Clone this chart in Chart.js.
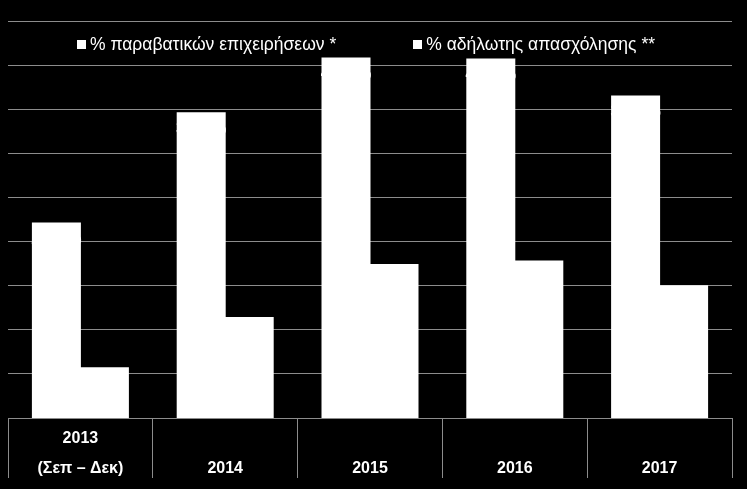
<!DOCTYPE html>
<html>
<head>
<meta charset="utf-8">
<script src="https://cdn.jsdelivr.net/npm/chart.js@4/dist/chart.umd.min.js"></script>
<style>
  html, body { margin: 0; padding: 0; background: #000; }
  #wrap { position: relative; width: 747px; height: 489px; background: #000; overflow: hidden; }
  canvas { display: block; }
  #legend { position: absolute; left: 4px; width: 724px; top: 33px; display: flex; justify-content: center; gap: 77px;
            font-family: "Liberation Sans", Arial, sans-serif; font-size: 17.5px; color: #fff; line-height: 22px; }
  #legend .item { display: flex; align-items: center; white-space: nowrap; }
  #legend .box { width: 9px; height: 9px; background: #fff; margin-right: 4px; }
</style>
</head>
<body>
<div id="wrap">
  <canvas id="c" width="747" height="489"></canvas>
  <div id="legend"></div>
</div>
<script>
const categories = [["2013", "(Σεπ – Δεκ)"], "2014", "2015", "2016", "2017"];
const seriesNames = ["% παραβατικών επιχειρήσεων *", "% αδήλωτης απασχόλησης **"];
const violatingBusinesses = [22.1, 34.6, 40.8, 40.7, 36.5];
const undeclaredWork = [5.7, 11.4, 17.4, 17.8, 15.0];
const yTicks = { min: 0, max: 45, step: 5 };

// HTML legend built from the series names
const legendEl = document.getElementById('legend');
seriesNames.forEach(n => {
  const it = document.createElement('div'); it.className = 'item';
  const b = document.createElement('span'); b.className = 'box';
  const t = document.createElement('span'); t.textContent = n;
  it.appendChild(b); it.appendChild(t); legendEl.appendChild(it);
});

// white value labels (white text on white bars; only edges peek out)
const valueLabels = {
  id: 'valueLabels',
  afterDatasetsDraw(chart) {
    const ctx = chart.ctx;
    const meta = chart.getDatasetMeta(0);
    ctx.save();
    ctx.fillStyle = '#fff';
    ctx.font = 'bold 17.8px "Liberation Sans", Arial, sans-serif';
    ctx.textAlign = 'center';
    ctx.textBaseline = 'middle';
    meta.data.forEach((bar, i) => {
      const v = violatingBusinesses[i];
      ctx.fillText(v.toFixed(1).replace('.', ',') + '%', bar.x, bar.y + 16);
    });
    ctx.restore();
  }
};

new Chart(document.getElementById('c'), {
  type: 'bar',
  data: {
    labels: categories,
    datasets: [
      { label: seriesNames[0], data: violatingBusinesses, backgroundColor: '#ffffff', borderWidth: 0, inflateAmount: 0.5 },
      { label: seriesNames[1], data: undeclaredWork, backgroundColor: '#ffffff', borderWidth: 0, inflateAmount: 0.5 }
    ]
  },
  options: {
    responsive: false,
    animation: false,
    devicePixelRatio: 1,
    layout: { padding: { left: 8, right: 15, top: 21, bottom: 0 } },
    plugins: { legend: { display: false }, tooltip: { enabled: false } },
    datasets: { bar: { categoryPercentage: 0.663, barPercentage: 1.0 } },
    scales: {
      x: {
        afterFit(scale) { scale.height = 71; },
        grid: { offset: true, drawOnChartArea: false, drawTicks: true, tickLength: 60, color: '#8c8c8c', lineWidth: 1 },
        border: { display: true, color: '#8c8c8c', width: 1 },
        ticks: {
          color: '#ffffff', padding: -39.5, crossAlign: 'far', maxRotation: 0, autoSkip: false,
          font: { family: '"Liberation Sans", Arial, sans-serif', size: 16, weight: 'bold', lineHeight: 1.875 }
        }
      },
      y: {
        min: yTicks.min, max: yTicks.max,
        ticks: { display: false, stepSize: yTicks.step },
        grid: { color: '#8c8c8c', lineWidth: 1, drawTicks: false },
        border: { display: false }
      }
    }
  },
  plugins: [valueLabels]
});
</script>
</body>
</html>
